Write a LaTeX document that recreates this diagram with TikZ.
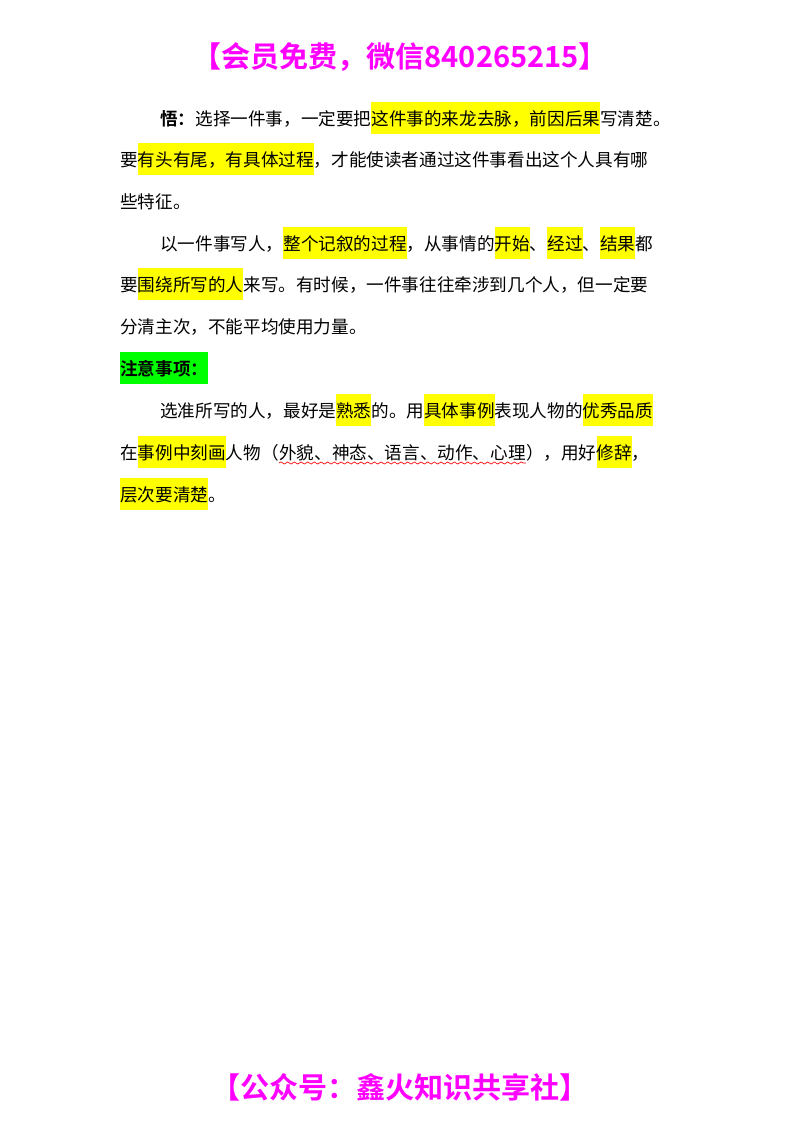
\documentclass[tikz,border=0pt]{standalone}
\usepackage{fontspec}
\usetikzlibrary{decorations.pathmorphing}
\setmainfont{Noto Sans CJK SC}
\newfontfamily\cjkb{Noto Sans CJK SC Bold}
\definecolor{hly}{RGB}{255,255,0}
\definecolor{hlg}{RGB}{0,255,0}
\definecolor{mag}{RGB}{255,0,255}
\newcommand{\hlx}[1]{{\setlength{\fboxsep}{0pt}\colorbox{hly}{\rule[-7pt]{0pt}{24pt}#1}}}
\newcommand{\hlgr}[1]{{\setlength{\fboxsep}{0pt}\colorbox{hlg}{\rule[-7pt]{0pt}{24pt}#1}}}
\tikzset{ln/.style={anchor=base west,inner sep=0pt,font=\fontsize{13.2}{16}\selectfont},
 ttl/.style={anchor=base,inner sep=0pt,text=mag,font=\cjkb\fontsize{21.8}{24}\selectfont}}
\begin{document}
\begin{tikzpicture}[x=0.75pt,y=-0.75pt]
\useasboundingbox (0,0) rectangle (800,1132);
\node[ttl] (t1) at (400,67) {【会员免费，微信840265215】};
\node[ln] (l1) at (160,125) {{\cjkb 悟：}选择一件事，一定要把\hlx{这件事的来龙去脉，前因后果}写清楚。};
\node[ln] (l2) at (120,166) {要\hlx{有头有尾，有具体过程}，才能使读者通过这件事看出这个人具有哪};
\node[ln] (l3) at (120,208) {些特征。};
\node[ln] (l4) at (160,250) {以一件事写人，\hlx{整个记叙的过程}，从事情的\hlx{开始}、\hlx{经过}、\hlx{结果}都};
\node[ln] (l5) at (120,291) {要\hlx{围绕所写的人}来写。有时候，一件事往往牵涉到几个人，但一定要};
\node[ln] (l6) at (120,333) {分清主次，不能平均使用力量。};
\node[ln] (l7) at (120,375) {\hlgr{\cjkb 注意事项：}};
\node[ln] (l8) at (160,417) {选准所写的人，最好是\hlx{熟悉}的。用\hlx{具体事例}表现人物的\hlx{优秀品质}};
\node[ln] (l9a) at (120,459) {在\hlx{事例中刻画}人物（};
\node[ln] (l9b) at (l9a.base east) {外貌、神态、语言、动作、心理};
\node[ln] (l9c) at (l9b.base east) {），用好\hlx{修辞}，};
\node[ln] (l10) at (120,501) {\hlx{层次要清楚}。};
\draw[red,line width=0.5pt,decorate,decoration={snake,amplitude=0.8pt,segment length=5pt}]
 ([yshift=-3pt]l9b.base west) -- ([yshift=-3pt]l9b.base east);
\node[ttl] (t2) at (400,1098) {【公众号：鑫火知识共享社】};
\end{tikzpicture}
\end{document}
